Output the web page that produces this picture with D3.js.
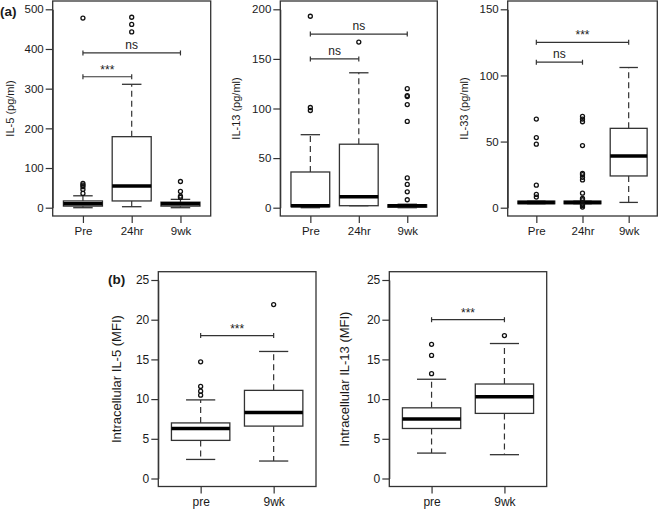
<!DOCTYPE html>
<html>
<head>
<meta charset="utf-8">
<script src="https://cdn.jsdelivr.net/npm/d3@7"></script>
<style>
  html, body { margin: 0; padding: 0; background: #fff; }
  svg { display: block; font-family: "Liberation Sans", Arial, Helvetica, sans-serif; }
</style>
</head>
<body>
<svg id="chart" width="668" height="509"></svg>
<script>
// ---------------- DATA ----------------
// Panel (a) categories
const catsA = ["Pre", "24hr", "9wk"];
// Panel (b) categories
const catsB = ["pre", "9wk"];

// Box stats: [lower whisker, Q1, median, Q3, upper whisker]
const il5Stats = [[0, 4, 10, 17, 30], [2.5, 17, 55, 179, 311], [0, 4, 10, 14, 21]];
const il5Outliers = [[36, 46, 53, 57, 61, 478], [443, 462, 480], [26, 29, 41, 66]];

const il13Stats = [[0, 1, 2, 36, 73.6], [2, 2, 11, 64, 136], [0, 0.5, 2, 3, 3.5]];
const il13Outliers = [[98, 101, 193], [167], [8, 16, 23.5, 30, 87, 104, 112, 113, 120]];

const il33Stats = [[3, 3, 4, 5, 5], [3, 3, 4, 5, 5], [4, 24, 39, 60, 106]];
const il33Outliers = [[8, 10, 17, 48, 53, 67], [0.5, 1.5, 2.5, 6, 7, 11, 21, 23, 25, 26, 47, 65, 67, 69], []];

const icIl5Stats = [[2.4, 4.8, 6.3, 7.0, 9.9], [2.2, 6.6, 8.3, 11.1, 16.0]];
const icIl5Outliers = [[10.5, 11.0, 11.6, 14.7], [21.9]];

const icIl13Stats = [[3.2, 6.3, 7.5, 8.9, 12.5], [3.0, 8.2, 10.3, 11.9, 17.0]];
const icIl13Outliers = [[13.2, 15.5, 16.9], [18.0]];

// Significance brackets: [from index, to index, y value, label]
const il5Brackets = [[0, 1, 330, "***"], [0, 2, 390, "ns"]];
const il13Brackets = [[0, 1, 150, "ns"], [0, 2, 175, "ns"]];
const il33Brackets = [[0, 1, 110, "ns"], [0, 2, 125, "***"]];
const icIl5Brackets = [[0, 1, 18, "***"]];
const icIl13Brackets = [[0, 1, 20, "***"]];

// Tick labels
const il5Ticks = [0, 100, 200, 300, 400, 500];
const il13Ticks = [0, 50, 100, 150, 200];
const il33Ticks = [0, 50, 100, 150];
const icTicks = [0, 5, 10, 15, 20, 25];

// Axis titles
const titles = ["IL-5 (pg/ml)", "IL-13 (pg/ml)", "IL-33 (pg/ml)", "Intracellular IL-5 (MFI)", "Intracellular IL-13 (MFI)"];

// ---------------- DRAWING ----------------
const svg = d3.select("#chart");
const FONT = '"Liberation Sans", Arial, Helvetica, sans-serif';

function drawPanel(opt) {
  const g = svg.append("g");
  const n = opt.cats.length;
  // R-style x extent: 0.5..n+0.5 widened by 4%
  const pad = n * 0.04;
  const x = d3.scaleLinear().domain([0.5 - pad, n + 0.5 + pad]).range([opt.L, opt.R]);
  const y = d3.scaleLinear().domain([opt.ticks[0], opt.ticks[opt.ticks.length - 1]]).range([opt.y0, opt.y1]);
  const unit = x(2) - x(1);
  const boxW = 0.8 * unit;
  const capW = 0.5 * boxW;
  const stroke = "#333";

  // y axis
  const yAxis = d3.axisLeft(y).tickValues(opt.ticks).tickSize(7).tickSizeOuter(0).tickPadding(2);
  const ya = g.append("g").attr("transform", `translate(${opt.L},0)`).call(yAxis);
  ya.select(".domain").attr("stroke", stroke);
  ya.selectAll(".tick line").attr("stroke", stroke).attr("stroke-width", 1.2);
  ya.selectAll("text").attr("font-family", FONT).attr("font-size", opt.tickFont).attr("fill", "#1a1a1a");

  // x axis
  const xAxis = d3.axisBottom(x).tickValues(d3.range(1, n + 1)).tickFormat((d) => opt.cats[d - 1]).tickSize(7).tickSizeOuter(0).tickPadding(4);
  const xa = g.append("g").attr("transform", `translate(0,${opt.B})`).call(xAxis);
  xa.select(".domain").remove();
  xa.selectAll(".tick line").attr("stroke", stroke).attr("stroke-width", 1.2);
  xa.selectAll("text").attr("font-family", FONT).attr("font-size", opt.catFont).attr("fill", "#1a1a1a");

  // frame
  g.append("rect").attr("x", opt.L).attr("y", opt.T).attr("width", opt.R - opt.L).attr("height", opt.B - opt.T)
    .attr("fill", "none").attr("stroke", stroke).attr("stroke-width", 1.3);

  // boxes
  opt.stats.forEach((s, i) => {
    const cx = x(i + 1);
    const bg = g.append("g");
    // whiskers (dashed)
    bg.append("line").attr("x1", cx).attr("x2", cx).attr("y1", y(s[3])).attr("y2", y(s[4]))
      .attr("stroke", stroke).attr("stroke-width", 1.2).attr("stroke-dasharray", "6,4");
    bg.append("line").attr("x1", cx).attr("x2", cx).attr("y1", y(s[1])).attr("y2", y(s[0]))
      .attr("stroke", stroke).attr("stroke-width", 1.2).attr("stroke-dasharray", "6,4");
    // caps
    [s[0], s[4]].forEach((v) => {
      bg.append("line").attr("x1", cx - capW / 2).attr("x2", cx + capW / 2).attr("y1", y(v)).attr("y2", y(v))
        .attr("stroke", stroke).attr("stroke-width", 1.3);
    });
    // box
    bg.append("rect").attr("x", cx - boxW / 2).attr("width", boxW)
      .attr("y", y(s[3])).attr("height", Math.max(0.5, y(s[1]) - y(s[3])))
      .attr("fill", "#fff").attr("stroke", stroke).attr("stroke-width", 1.3);
    // median
    bg.append("line").attr("x1", cx - boxW / 2).attr("x2", cx + boxW / 2).attr("y1", y(s[2])).attr("y2", y(s[2]))
      .attr("stroke", "#000").attr("stroke-width", 3.5);
    // outliers
    bg.selectAll("circle.o").data(opt.outliers[i]).enter().append("circle")
      .attr("cx", cx).attr("cy", (d) => y(d)).attr("r", 2)
      .attr("fill", "none").attr("stroke", "#111").attr("stroke-width", 1.3);
  });

  // brackets
  opt.brackets.forEach((b) => {
    const x1 = x(b[0] + 1), x2 = x(b[1] + 1), yy = y(b[2]);
    const bk = g.append("g").attr("stroke", stroke).attr("stroke-width", 1.2);
    bk.append("line").attr("x1", x1).attr("x2", x2).attr("y1", yy).attr("y2", yy);
    bk.append("line").attr("x1", x1).attr("x2", x1).attr("y1", yy - 2.5).attr("y2", yy + 2.5);
    bk.append("line").attr("x1", x2).attr("x2", x2).attr("y1", yy - 2.5).attr("y2", yy + 2.5);
    const isStar = b[3] === "***";
    g.append("text").attr("x", (x1 + x2) / 2).attr("y", yy - (isStar ? 3 : 4))
      .attr("text-anchor", "middle").attr("font-family", FONT)
      .attr("font-size", isStar ? opt.starFont : opt.nsFont).attr("fill", "#1a1a1a")
      .text(b[3]);
  });

  // y title
  g.append("text").attr("transform", `translate(${opt.titleX},${(opt.T + opt.B) / 2}) rotate(-90)`)
    .attr("text-anchor", "middle").attr("dominant-baseline", "central")
    .attr("font-family", FONT).attr("font-size", opt.titleFont).attr("fill", "#1a1a1a")
    .text(opt.title);
}

const aCommon = { T: 1, B: 216, y0: 207.7, y1: 9.3, cats: catsA, tickFont: 11.5, catFont: 11.5, nsFont: 12, starFont: 12, titleFont: 11 };
drawPanel(Object.assign({}, aCommon, { L: 52.7, R: 210.7, ticks: il5Ticks, stats: il5Stats, outliers: il5Outliers, brackets: il5Brackets, title: titles[0], titleX: 10 }));
drawPanel(Object.assign({}, aCommon, { L: 280.3, R: 437.3, ticks: il13Ticks, stats: il13Stats, outliers: il13Outliers, brackets: il13Brackets, title: titles[1], titleX: 236 }));
drawPanel(Object.assign({}, aCommon, { L: 507.7, R: 657.3, ticks: il33Ticks, stats: il33Stats, outliers: il33Outliers, brackets: il33Brackets, title: titles[2], titleX: 464 }));

const bCommon = { T: 271.7, B: 486.5, y0: 478.5, y1: 280, cats: catsB, ticks: icTicks, tickFont: 12, catFont: 12, nsFont: 12, starFont: 12, titleFont: 13 };
drawPanel(Object.assign({}, bCommon, { L: 158.3, R: 316, stats: icIl5Stats, outliers: icIl5Outliers, brackets: icIl5Brackets, title: titles[3], titleX: 116 }));
drawPanel(Object.assign({}, bCommon, { L: 389.3, R: 546.7, stats: icIl13Stats, outliers: icIl13Outliers, brackets: icIl13Brackets, title: titles[4], titleX: 344 }));

// panel letters
svg.append("text").attr("x", 0).attr("y", 16).attr("font-family", FONT).attr("font-weight", "bold").attr("font-size", 13.5).attr("fill", "#1a1a1a").text("(a)");
svg.append("text").attr("x", 108).attr("y", 284).attr("font-family", FONT).attr("font-weight", "bold").attr("font-size", 13.5).attr("fill", "#1a1a1a").text("(b)");
</script>
</body>
</html>
